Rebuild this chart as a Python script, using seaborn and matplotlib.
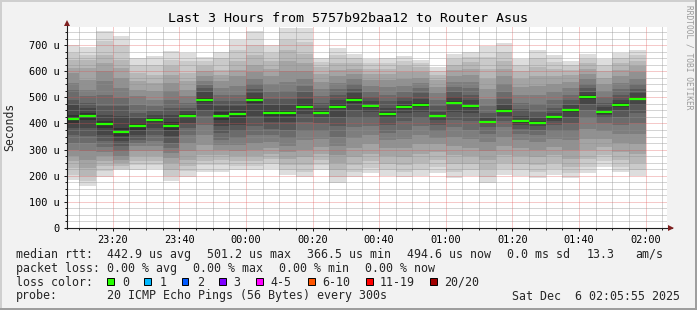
import matplotlib
matplotlib.use("Agg")
import matplotlib.pyplot as plt
import seaborn as sns
import numpy as np
import pandas as pd
from matplotlib.patches import Rectangle
from matplotlib.ticker import MultipleLocator, FixedLocator

# ---------------- data ----------------
title = "Last 3 Hours from 5757b92baa12 to Router Asus"
interval_start = ["23:05", "23:10", "23:15", "23:20", "23:25", "23:30", "23:35",
                  "23:40", "23:45", "23:50", "23:55", "00:00", "00:05", "00:10",
                  "00:15", "00:20", "00:25", "00:30", "00:35", "00:40", "00:45",
                  "00:50", "00:55", "01:00", "01:05", "01:10", "01:15", "01:20",
                  "01:25", "01:30", "01:35", "01:40", "01:45", "01:50", "01:55"]
window_start = "23:06:17"
window_end = "02:06:17"
step_minutes = 5

median_us = [418, 428, 397, 367, 389, 414, 391, 428, 491, 428, 435, 491, 440, 439,
             464, 441, 464, 491, 465, 436, 464, 470, 427, 478, 466, 406, 449, 408,
             403, 423, 450, 501, 444, 470, 495]

# 20 sorted ping round-trip times (us) for each interval
pings_us = [
    [185, 204, 230, 255, 274, 300, 325, 357, 383, 402, 434, 472, 491, 529, 555, 593, 612, 644, 669, 699],
    [160, 178, 198, 230, 261, 293, 325, 351, 383, 412, 440, 459, 478, 504, 529, 567, 612, 641, 663, 692],
    [197, 217, 236, 255, 274, 291, 309, 332, 357, 383, 411, 434, 465, 510, 561, 599, 631, 663, 714, 753],
    [220, 227, 236, 249, 261, 274, 293, 312, 332, 351, 383, 427, 465, 497, 535, 574, 612, 644, 701, 733],
    [222, 240, 255, 274, 293, 312, 325, 338, 357, 376, 402, 421, 440, 472, 504, 529, 561, 593, 625, 649],
    [227, 240, 255, 274, 293, 312, 332, 357, 383, 404, 424, 434, 446, 465, 491, 523, 555, 587, 625, 659],
    [178, 198, 223, 249, 268, 287, 306, 325, 351, 376, 406, 434, 459, 491, 523, 555, 587, 618, 644, 678],
    [197, 217, 236, 261, 293, 325, 357, 383, 402, 421, 435, 446, 459, 478, 504, 529, 561, 593, 638, 670],
    [215, 240, 255, 280, 319, 357, 395, 428, 452, 482, 500, 520, 535, 548, 561, 580, 600, 620, 640, 655],
    [215, 242, 261, 281, 300, 319, 338, 363, 389, 414, 442, 465, 485, 510, 536, 561, 587, 606, 650, 673],
    [222, 236, 255, 274, 293, 319, 344, 370, 395, 423, 447, 465, 485, 510, 542, 580, 606, 638, 682, 718],
    [220, 236, 255, 274, 300, 325, 357, 389, 430, 480, 502, 515, 530, 550, 570, 595, 625, 660, 700, 754],
    [224, 245, 265, 285, 305, 330, 355, 380, 405, 430, 450, 470, 495, 520, 550, 580, 610, 640, 670, 700],
    [204, 220, 240, 265, 290, 315, 345, 375, 405, 428, 450, 470, 495, 525, 560, 600, 640, 680, 720, 765],
    [195, 215, 240, 270, 300, 335, 370, 405, 435, 455, 473, 495, 520, 545, 570, 600, 630, 665, 710, 765],
    [220, 240, 262, 285, 310, 340, 370, 400, 425, 435, 447, 460, 480, 505, 530, 560, 590, 615, 635, 650],
    [172, 195, 220, 250, 280, 315, 350, 390, 425, 455, 473, 490, 510, 530, 555, 580, 605, 630, 660, 688],
    [195, 215, 240, 270, 305, 345, 385, 420, 450, 480, 502, 515, 530, 550, 570, 590, 610, 630, 650, 667],
    [212, 230, 255, 285, 320, 355, 390, 420, 445, 458, 472, 485, 500, 520, 545, 565, 590, 610, 630, 646],
    [198, 220, 245, 275, 305, 335, 365, 395, 420, 430, 442, 460, 485, 510, 540, 565, 590, 610, 630, 650],
    [196, 215, 240, 270, 305, 340, 375, 410, 440, 457, 471, 485, 500, 520, 545, 570, 595, 620, 640, 659],
    [200, 222, 250, 285, 320, 355, 390, 420, 445, 462, 478, 495, 515, 535, 555, 575, 595, 615, 630, 644],
    [212, 235, 260, 290, 320, 345, 370, 395, 415, 422, 432, 445, 465, 490, 515, 540, 565, 585, 600, 615],
    [190, 215, 245, 280, 315, 350, 385, 415, 445, 470, 486, 500, 520, 540, 560, 580, 605, 625, 645, 666],
    [200, 220, 245, 275, 305, 340, 375, 410, 440, 458, 474, 490, 510, 535, 560, 585, 610, 635, 655, 674],
    [173, 195, 225, 260, 295, 330, 360, 385, 398, 402, 410, 420, 440, 465, 495, 530, 570, 610, 655, 695],
    [203, 225, 250, 280, 315, 350, 385, 410, 430, 442, 456, 470, 495, 520, 550, 580, 610, 640, 675, 706],
    [199, 220, 245, 275, 305, 335, 360, 380, 395, 402, 414, 430, 455, 480, 510, 540, 570, 600, 625, 647],
    [193, 215, 240, 270, 300, 330, 355, 375, 390, 398, 408, 420, 445, 475, 510, 545, 580, 615, 650, 680],
    [204, 225, 250, 280, 310, 340, 370, 395, 410, 418, 428, 440, 460, 490, 520, 550, 580, 610, 635, 661],
    [190, 210, 235, 265, 300, 335, 370, 400, 425, 443, 457, 470, 490, 510, 535, 560, 585, 605, 625, 640],
    [210, 235, 265, 300, 340, 380, 420, 450, 475, 494, 508, 520, 535, 550, 570, 590, 610, 630, 648, 666],
    [235, 255, 280, 310, 340, 370, 400, 420, 432, 438, 450, 462, 480, 500, 525, 550, 575, 600, 625, 645],
    [215, 235, 260, 290, 325, 360, 395, 425, 450, 463, 477, 490, 510, 530, 555, 580, 605, 630, 650, 671],
    [199, 220, 250, 285, 320, 360, 400, 440, 470, 488, 502, 515, 530, 550, 570, 595, 620, 640, 660, 680],
]

x_tick_labels = ["23:20", "23:40", "00:00", "00:20", "00:40", "01:00", "01:20", "01:40", "02:00"]
y_ticks = [0, 100, 200, 300, 400, 500, 600, 700]
y_tick_labels = ["0", "100 u", "200 u", "300 u", "400 u", "500 u", "600 u", "700 u"]
y_top = 769

legend_rows = [
    ["median rtt:", "442.9 us avg", "501.2 us max", "366.5 us min", "494.6 us now", "0.0 ms sd", "13.3", "am/s"],
    ["packet loss:", "0.00 % avg", "0.00 % max", "0.00 % min", "0.00 % now"],
]
loss_labels = ["0", "1", "2", "3", "4-5", "6-10", "11-19", "20/20"]
loss_colors = ["#26ff00", "#00b8ff", "#0059ff", "#7e00ff", "#ff00ff", "#ff5500", "#ff0000", "#a10000"]
probe_text = "20 ICMP Echo Pings (56 Bytes) every 300s"
date_text = "Sat Dec  6 02:05:55 2025"


def to_minutes(s):
    parts = [int(p) for p in s.split(":")]
    h, m = parts[0], parts[1]
    sec = parts[2] if len(parts) > 2 else 0
    total = h * 60 + m + sec / 60.0
    if h < 12:
        total += 24 * 60
    return total - 23 * 60


df = pd.DataFrame(pings_us, columns=[f"p{i+1}" for i in range(20)])
df["start"] = [to_minutes(s) for s in interval_start]
df["median"] = median_us

# ---------------- style ----------------
sns.set_theme(style="white")
plt.rcParams["font.family"] = ["DejaVu Sans Mono", "DejaVu Sans"]

W, H = 697, 310
fig = plt.figure(figsize=(W / 100, H / 100), dpi=100, facecolor="#f2f2f2")

def fx(px):
    return px / W

def fy(py):
    return 1 - py / H

ax_l, ax_r, ax_t, ax_b = 67, 666.5, 27, 228
ax = fig.add_axes([fx(ax_l), fy(ax_b), (ax_r - ax_l) / W, (ax_b - ax_t) / H])
ax.set_facecolor("white")

# smoke: layer i spans ping i .. ping (21-i); inner layers darker
half = 10
for i in range(1, half + 1):
    shade = int(190 / half * (half - i)) + 50
    col = "#%02x%02x%02x" % (shade, shade, shade)
    lo = df[f"p{i}"]
    hi = df[f"p{21 - i}"]
    ax.bar(df["start"], hi - lo, bottom=lo, width=step_minutes, align="edge",
           color=col, linewidth=0, antialiased=False, zorder=2)

# median lines
ax.hlines(df["median"], df["start"], df["start"] + step_minutes, colors=loss_colors[0],
          linewidth=1.6, zorder=4)

ax.set_xlim(to_minutes(window_start), to_minutes(window_end))
ax.set_ylim(0, y_top)

ax.xaxis.set_major_locator(FixedLocator([to_minutes(t) for t in x_tick_labels]))
ax.set_xticklabels(x_tick_labels)
ax.xaxis.set_minor_locator(MultipleLocator(step_minutes))
ax.yaxis.set_major_locator(FixedLocator(y_ticks))
ax.set_yticklabels(y_tick_labels)
ax.yaxis.set_minor_locator(MultipleLocator(25))

dots = (0, (1, 1))
ax.grid(which="minor", color="#8f8f8f", alpha=0.75, linestyle=dots, linewidth=0.72, zorder=3)
ax.grid(which="major", color="#de4f4f", alpha=0.6, linestyle=dots, linewidth=0.72, zorder=3)
ax.set_axisbelow(False)

for s in ax.spines.values():
    s.set_visible(False)

ax.tick_params(axis="both", which="major", direction="out", length=2.2, width=0.72,
               color="#1f1f1f", labelsize=7.4, labelcolor="black", pad=3.3,
               bottom=True, left=True)
ax.tick_params(axis="both", which="minor", direction="out", length=1.4, width=0.72,
               color="#1f1f1f", bottom=True, left=True)
ax.tick_params(axis="x", which="major", pad=2.6)

# axis lines with arrows
axis_col = "#1f1f1f"
arrow_col = "#7f1f1f"
fig.add_artist(plt.Line2D([fx(ax_l), fx(ax_l)], [fy(ax_b + 0.5), fy(22)], color=axis_col, lw=0.8))
fig.add_artist(plt.Line2D([fx(ax_l - 2), fx(672)], [fy(ax_b), fy(ax_b)], color=axis_col, lw=0.8))
fig.add_artist(plt.Line2D([fx(ax_l)], [fy(23)], marker="^", markersize=4.2, color=arrow_col,
                          markeredgewidth=0, linestyle="none"))
fig.add_artist(plt.Line2D([fx(671)], [fy(ax_b)], marker=">", markersize=4.2, color=arrow_col,
                          markeredgewidth=0, linestyle="none"))

# texts
fig.text(0.5, fy(18), title, ha="center", va="center", fontsize=9.6, color="black")
fig.text(fx(10), fy(127), "Seconds", rotation=90, ha="center", va="center", fontsize=8.3)
fig.text(fx(688.5), fy(5), "RRDTOOL / TOBI OETIKER", rotation=-90, ha="center", va="top",
         fontsize=5.7, color="#9a9a9a")

row1_x = [16, 107.3, 207.3, 306.7, 407.3, 507.3, 586.7, 635]
row2_x = [16, 107.3, 193.3, 279.3, 365]
fs = 8.4
for txt, x in zip(legend_rows[0], row1_x):
    fig.text(fx(x), fy(254.3), txt, ha="left", va="center", fontsize=fs)
for txt, x in zip(legend_rows[1], row2_x):
    fig.text(fx(x), fy(268.3), txt, ha="left", va="center", fontsize=fs)

fig.text(fx(16), fy(282.3), "loss color:", ha="left", va="center", fontsize=fs)
box_x = [107.3, 144.3, 181.7, 219, 256, 308.3, 366, 430]
lab_x = [122.7, 159.3, 196.7, 233.3, 270.7, 322.7, 380, 444]
for lab, c, bx, lx in zip(loss_labels, loss_colors, box_x, lab_x):
    fig.add_artist(Rectangle((fx(bx), fy(284.7)), 6.7 / W, 6.7 / H, transform=fig.transFigure,
                             facecolor=c, edgecolor="black", linewidth=0.7))
    fig.text(fx(lx), fy(282.3), lab, ha="left", va="center", fontsize=fs)

fig.text(fx(16), fy(296), "probe:", ha="left", va="center", fontsize=fs)
fig.text(fx(107.3), fy(296), probe_text, ha="left", va="center", fontsize=fs)
fig.text(fx(680), fy(296), date_text, ha="right", va="center", fontsize=fs)

# 3-D frame
fig.add_artist(Rectangle((0, 1 - 2 / H), 1, 2 / H, transform=fig.transFigure, facecolor="#cfcfcf", lw=0))
fig.add_artist(Rectangle((0, 0), 2 / W, 1, transform=fig.transFigure, facecolor="#cfcfcf", lw=0))
fig.add_artist(Rectangle((0, 0), 1, 2 / H, transform=fig.transFigure, facecolor="#9e9e9e", lw=0))
fig.add_artist(Rectangle((1 - 2 / W, 0), 2 / W, 1, transform=fig.transFigure, facecolor="#9e9e9e", lw=0))

fig.savefig("out.png", dpi=100, facecolor=fig.get_facecolor())
